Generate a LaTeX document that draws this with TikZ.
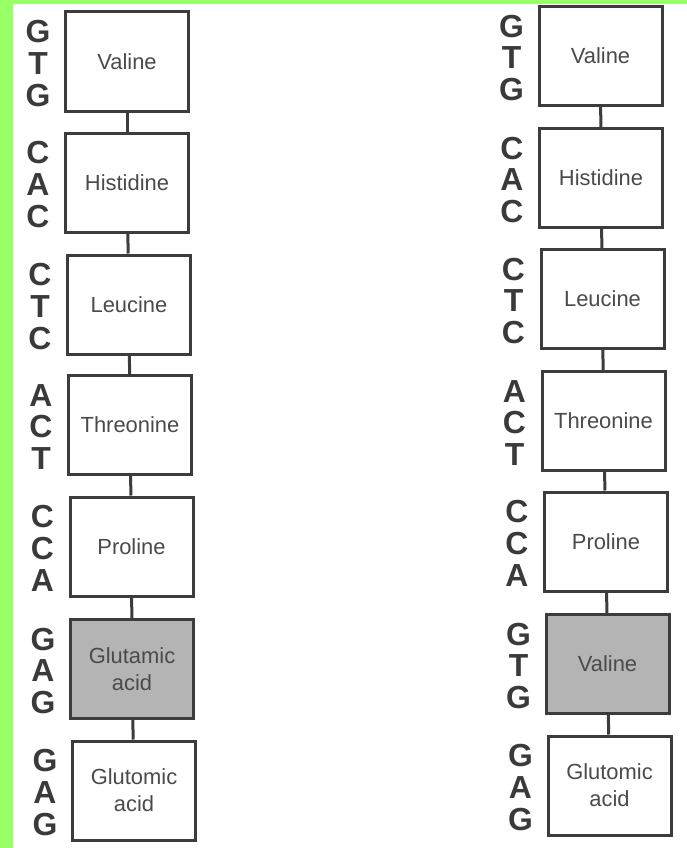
\documentclass[tikz,border=0pt]{standalone}
\usepackage{fontspec}
\setmainfont{Liberation Sans}
\definecolor{bandgreen}{HTML}{99FF66}
\definecolor{boxline}{HTML}{3C3C3C}
\definecolor{boxtext}{HTML}{4A4A4A}
\definecolor{codontext}{HTML}{3A3A3A}
\definecolor{shade}{HTML}{B4B4B4}
\tikzset{
  acid/.style={draw=boxline, line width=3bp, fill=white, minimum width=123bp, minimum height=99bp,
    inner sep=0pt, align=center, text=boxtext, font=\fontsize{22}{27}\selectfont},
  mutant/.style={acid, fill=shade},
  codon/.style={inner sep=0pt, align=center, text=codontext,
    font=\bfseries\fontsize{32}{32}\selectfont},
  link/.style={draw=boxline, line width=3bp}
}
\begin{document}
\begin{tikzpicture}[x=1bp,y=-1bp]
\fill[white] (0,0) rectangle (687,848);
\useasboundingbox (0,0) rectangle (687,848);
\fill[bandgreen] (0,0) rectangle (13,848);
\fill[bandgreen] (0,0) rectangle (687,4);
% left column
\node[acid] (L1) at (127,61.5) {Valine};
\node[acid] (L2) at (127,182.5) {Histidine};
\node[acid] (L3) at (129,304.5) {Leucine};
\node[acid] (L4) at (130,425) {Threonine};
\node[acid] (L5) at (131.5,546.5) {Proline};
\node[mutant] (L6) at (132,669) {Glutamic\\acid};
\node[acid] (L7) at (134,790.5) {Glutomic\\acid};
% right column
\node[acid] (R1) at (600.5,56) {Valine};
\node[acid] (R2) at (601,178) {Histidine};
\node[acid] (R3) at (602.5,299) {Leucine};
\node[acid] (R4) at (603.5,421) {Threonine};
\node[acid] (R5) at (606,541.5) {Proline};
\node[mutant] (R6) at (607.5,664) {Valine};
\node[acid] (R7) at (609.5,785.5) {Glutomic\\acid};
% connectors
\foreach \a/\b in {L1/L2,L2/L3,L3/L4,L4/L5,L5/L6,L6/L7,R1/R2,R2/R3,R3/R4,R4/R5,R5/R6,R6/R7}
  \draw[link] (\a) -- (\b);
% codons
\node[codon] (cL1) at ([xshift=-26bp,yshift=-2bp]L1.west) {G\\T\\G};
\node[codon] (cL2) at ([xshift=-26bp,yshift=-2bp]L2.west) {C\\A\\C};
\node[codon] (cL3) at ([xshift=-26bp,yshift=-2bp]L3.west) {C\\T\\C};
\node[codon] (cL4) at ([xshift=-26bp,yshift=-2bp]L4.west) {A\\C\\T};
\node[codon] (cL5) at ([xshift=-26bp,yshift=-2bp]L5.west) {C\\C\\A};
\node[codon] (cL6) at ([xshift=-26bp,yshift=-2bp]L6.west) {G\\A\\G};
\node[codon] (cL7) at ([xshift=-26bp,yshift=-2bp]L7.west) {G\\A\\G};
\node[codon] (cR1) at ([xshift=-26bp,yshift=-2bp]R1.west) {G\\T\\G};
\node[codon] (cR2) at ([xshift=-26bp,yshift=-2bp]R2.west) {C\\A\\C};
\node[codon] (cR3) at ([xshift=-26bp,yshift=-2bp]R3.west) {C\\T\\C};
\node[codon] (cR4) at ([xshift=-26bp,yshift=-2bp]R4.west) {A\\C\\T};
\node[codon] (cR5) at ([xshift=-26bp,yshift=-2bp]R5.west) {C\\C\\A};
\node[codon] (cR6) at ([xshift=-26bp,yshift=-2bp]R6.west) {G\\T\\G};
\node[codon] (cR7) at ([xshift=-26bp,yshift=-2bp]R7.west) {G\\A\\G};
\end{tikzpicture}
\end{document}
